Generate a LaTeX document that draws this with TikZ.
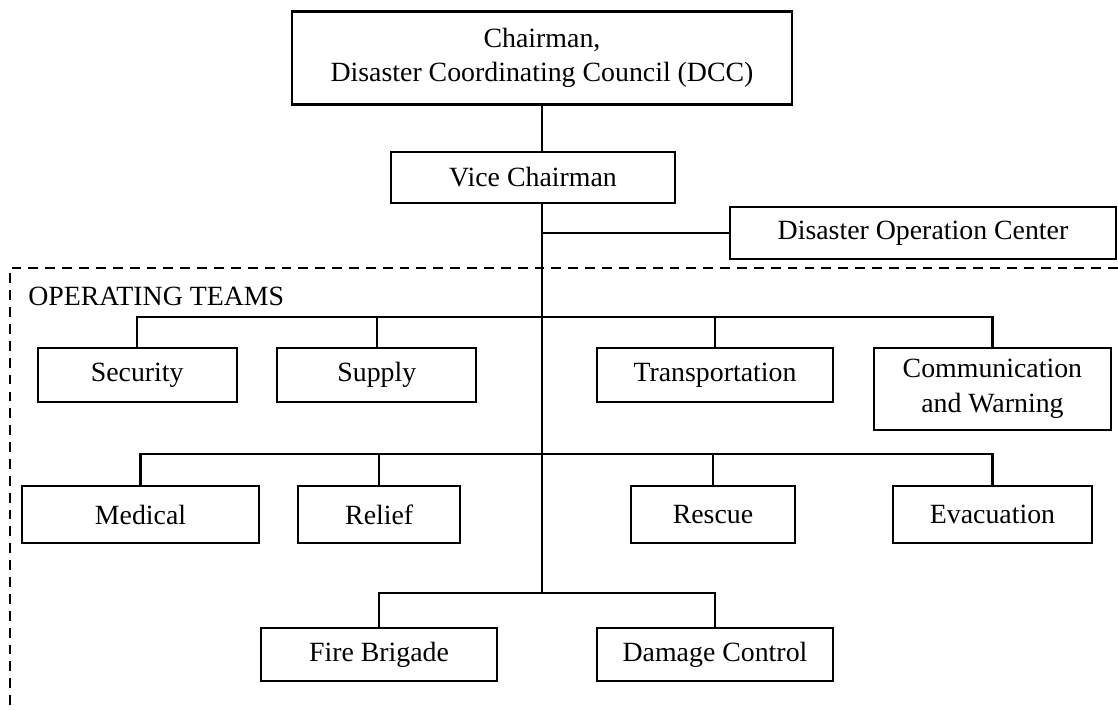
\documentclass[tikz,border=0pt]{standalone}
\usepackage{fontspec}
\setmainfont{Liberation Serif}
\usetikzlibrary{calc}

\begin{document}
\begin{tikzpicture}[font=\fontsize{19.8}{24.5}\selectfont,
  box/.style={draw, line width=1.6pt, align=center, inner sep=0pt},
  link/.style={line width=1.6pt},
  frame/.style={line width=1.6pt, dash pattern=on 7pt off 5pt}]
\useasboundingbox (0,0) rectangle (27.95,17.725);

% top of the council
\node[box, minimum width=12.5cm, minimum height=2.325cm] (chair) at (13.55,16.275){Chairman,\\Disaster Coordinating Council (DCC)};
\node[box, minimum width=7.1cm, minimum height=1.275cm] (vice) at (13.325,13.2875){Vice Chairman};
\node[box, minimum width=9.65cm, minimum height=1.3cm] (doc) at (23.075,11.9){Disaster Operation Center};

% operating teams
\draw[frame](27.95,11.025)-- (0.25,11.025)-- (0.25,0);
\node[anchor=west, inner sep=0pt] (ops) at (0.7,10.325){OPERATING TEAMS};

\node[box, minimum width=4.975cm, minimum height=1.35cm] (sec) at (3.43,8.35){Security};
\node[box, minimum width=4.975cm, minimum height=1.35cm] (sup) at (9.42,8.35){Supply};
\node[box, minimum width=5.9cm, minimum height=1.35cm] (tra) at (17.875,8.35){Transportation};
\node[box, minimum width=5.925cm, minimum height=2.05cm] (com) at (24.81,8.0){Communication\\and Warning};

\node[box, minimum width=5.925cm, minimum height=1.425cm] (med) at (3.5125,4.8625){Medical};
\node[box, minimum width=4.05cm, minimum height=1.425cm] (rel) at (9.48,4.8625){Relief};
\node[box, minimum width=4.1cm, minimum height=1.425cm] (res) at (17.825,4.8625){Rescue};
\node[box, minimum width=4.975cm, minimum height=1.425cm] (eva) at (24.8125,4.8625){Evacuation};

\node[box, minimum width=5.9cm, minimum height=1.325cm] (fire) at (9.475,1.3625){Fire Brigade};
\node[box, minimum width=5.9cm, minimum height=1.325cm] (dam) at (17.875,1.3625){Damage Control};

% lines
\coordinate (r1) at (13.55,9.8);
\coordinate (r2) at (13.55,6.375);
\coordinate (r3) at (13.55,2.9);
\draw[link](chair.south)-- (chair.south |- vice.north);
\draw[link](chair.south |- vice.south)-- (r3);
\draw[link](doc.west)-- (doc.west -| r3);

\draw[link](sec.north)-- (sec.north |- r1)-- (com.north |- r1)-- (com.north);
\draw[link](sup.north)-- (sup.north |- r1);
\draw[link](tra.north)-- (tra.north |- r1);

\draw[link](med.north)-- (med.north |- r2)-- (eva.north |- r2)-- (eva.north);
\draw[link](rel.north)-- (rel.north |- r2);
\draw[link](res.north)-- (res.north |- r2);

\draw[link](fire.north)-- (fire.north |- r3)-- (dam.north |- r3)-- (dam.north);

\end{tikzpicture}
\end{document}
